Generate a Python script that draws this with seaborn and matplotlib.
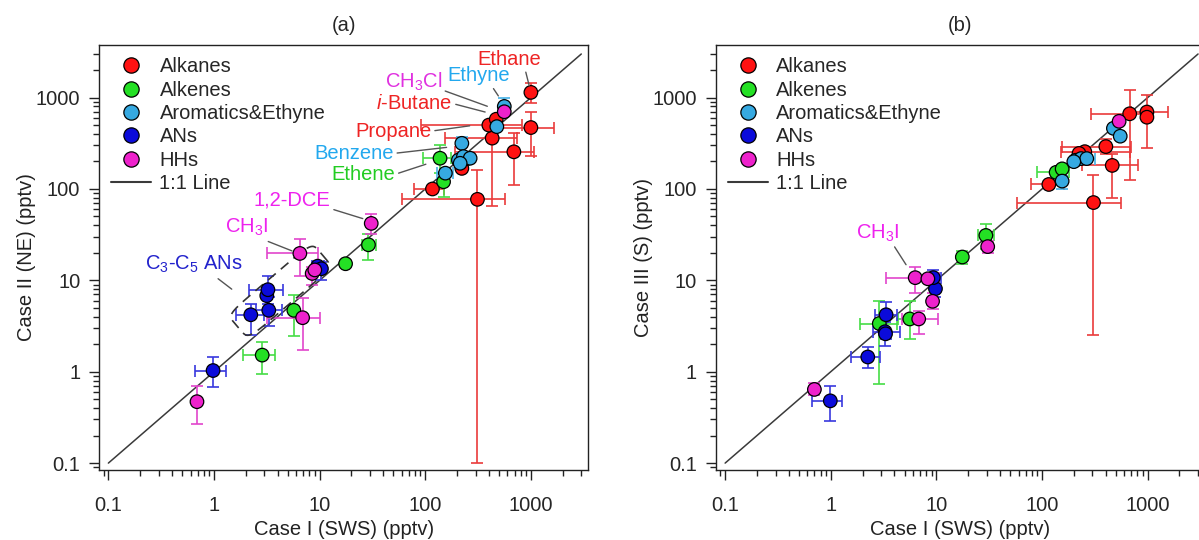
import numpy as np
import pandas as pd
import matplotlib.pyplot as plt
import seaborn as sns
from matplotlib.lines import Line2D
from matplotlib.ticker import LogLocator, FixedLocator, FuncFormatter, NullFormatter

sns.set_style("ticks")
plt.rcParams["font.family"] = ["Liberation Sans", "DejaVu Sans"]
plt.rcParams["mathtext.fontset"] = "custom"
plt.rcParams["mathtext.rm"] = "Liberation Sans"
plt.rcParams["mathtext.it"] = "Liberation Sans:italic"

# ── categories & colours ────────────────────────────────────
groups = ["Alkanes", "Alkenes", "Aromatics&Ethyne", "ANs", "HHs"]
face_cols = ["#FF1212", "#24E024", "#36A9E1", "#0B0BDA", "#EE22CC"]
err_cols = ["#EA3B3B", "#45DD45", "#45B2E6", "#3838DE", "#E245CC"]

# ── panel (a): Case I (SWS) vs Case II (NE), pptv ───────────
a_group = ["Alkanes"] * 10 + ["Alkenes"] * 6 + ["Aromatics&Ethyne"] * 8 + ["ANs"] * 7 + ["HHs"] * 7
a_x = [1000, 1000, 690, 430, 400, 470, 312, 117, 222, 250,
       138, 149, 29, 17.6, 5.7, 2.86,
       560, 476, 222, 206, 230, 266, 214, 155,
       0.98, 2.23, 3.3, 3.16, 3.24, 9.6, 10.4,
       0.69, 6.9, 6.5, 8.5, 9.0, 30.8, 560]
a_y = [1140, 470, 255, 360, 500, 580, 77, 100, 168, 215,
       217, 120, 24.5, 15.2, 4.7, 1.52,
       800, 481, 316, 207, 226, 217, 191, 149,
       1.03, 4.2, 4.7, 6.8, 7.9, 14.3, 13.4,
       0.47, 3.9, 19.7, 11.9, 13.0, 42, 700]
a_xlo = [None, 446, 190, 155, 92, None, 60, 78, None, None,
         96, None, 25, None, None, 1.88,
         None, None, None, None, None, None, None, 130,
         0.66, 1.6, 2.5, None, 2.14, 8.5, None,
         None, 3.2, 3.2, None, None, None, None]
a_xhi = [None, 1660, 1080, 740, 830, None, 570, 150, None, None,
         175, None, 34, None, None, 3.8,
         None, None, None, None, None, 330, None, 185,
         1.29, 3.0, 4.4, None, 4.5, 11, None,
         None, 10, 9.6, None, None, None, None]
a_ylo = [880, 230, 110, 65, None, None, 0.1, None, None, None,
         150, 82, 16.6, None, 2.45, 0.94,
         650, None, 250, None, None, None, None, None,
         0.68, 2.5, 3.2, None, 5.5, None, 10,
         0.27, 1.73, 11.2, 9, None, 32, None]
a_yhi = [1450, 690, 410, 500, None, None, 160, None, None, None,
         300, 150, 32, None, 6.9, 2.1,
         1000, None, 370, None, None, None, None, None,
         1.45, 5.5, 6.5, None, 11.2, None, 16,
         0.69, 6.4, 28, 14, None, 53, None]

# ── panel (b): Case I (SWS) vs Case III (S), pptv ───────────
b_group = ["Alkanes"] * 9 + ["Alkenes"] * 6 + ["Aromatics&Ethyne"] * 7 + ["ANs"] * 7 + ["HHs"] * 7
b_x = [676, 984, 984, 402, 462, 307, 254, 224, 116,
       29.4, 17.6, 136, 155, 2.88, 5.6,
       474, 550, 207, 234, 265, 155, 200,
       0.99, 2.24, 3.27, 3.3, 3.34, 9.8, 9.35,
       0.70, 6.8, 6.3, 8.3, 9.2, 30.6, 537]
b_y = [665, 695, 610, 291, 181, 71, 256, 245, 112,
       31, 18, 152, 166, 3.37, 3.78,
       461, 378, 206, 215, 215, 122, 199,
       0.48, 1.45, 2.74, 2.6, 4.2, 8.1, 10.7,
       0.64, 3.78, 10.7, 10.4, 5.9, 23.4, 550]
b_xlo = [288, 700, None, 155, 239, 58, 150, None, 78,
         25, None, 90, None, 1.9, 4.3,
         None, None, None, None, 230, None, None,
         0.67, 1.55, 2.5, None, 2.6, None, 8,
         None, 4.7, 3.3, None, None, None, None]
b_xhi = [1000, 1571, None, 689, 819, 562, 684, None, 160,
         35, None, 180, None, 4.2, 7,
         None, None, None, None, 320, None, None,
         1.28, 2.9, 4.5, None, 4.2, None, 11,
         None, 10.4, 10.7, None, None, None, None]
b_ylo = [125, 279, None, 240, 79, 2.5, None, None, None,
         22, 15, None, None, 0.73, 2.3,
         None, None, None, None, None, 100, None,
         0.29, 1.09, 1.9, None, 2.3, 6.5, 9,
         0.55, 2.6, 7.2, None, 4.8, 20, None]
b_yhi = [1210, 1067, None, 350, 240, 142, None, None, None,
         41, 21, None, None, 6.0, 5.9,
         None, None, None, None, None, 140, None,
         0.69, 1.88, 3.5, None, 5.8, 10, 13,
         0.75, 4.6, 13.9, None, 7.2, 27, None]

ticks = [0.1, 1, 10, 100, 1000]
line_range = [0.1, 3000]

# labelled species: (text, colour, text x, text y, point x, point y, rel start)
a_labels = [
    ("Ethane", "#EE2424", 621, 2620, 1000, 1140, (0.75, 0.0)),
    (r"$\mathregular{CH_3Cl}$", "#E030E0", 77, 1480, 446, 757, (1.0, 0.15)),
    ("Ethyne", "#22A8EE", 321, 1730, 535, 902, (0.7, 0.0)),
    (r"$\mathit{i}$-Butane", "#EE2424", 79, 862, 427, 665, (1.0, 0.5)),
    ("Propane", "#EE2424", 50, 430, 306, 503, (1.0, 0.5)),
    ("Benzene", "#22A8EE", 21.2, 245, 185, 291, (1.0, 0.5)),
    ("Ethene", "#22CC22", 26, 145, 117, 197, (1.0, 0.5)),
    ("1,2-DCE", "#EE22EE", 5.5, 76, 29.6, 45, (0.95, 0.1)),
    (r"$\mathregular{CH_3I}$", "#EE22EE", 2.05, 37.8, 6.3, 19.7, (0.8, 0.0)),
    (r"$\mathregular{C_3}$-$\mathregular{C_5}$ ANs", "#2222CC", 0.65, 14.8, 1.66, 7.2, (0.7, 0.0)),
]
b_labels = [
    (r"$\mathregular{CH_3I}$", "#EE22EE", 2.76, 33, 5.6, 12.8, (0.85, 0.0)),
]

# dashed box around the C3-C5 ANs in panel (a), log10 units
box_centre = (0.625, 0.885)
box_long = (0.40, 0.395)
box_short = (0.0985, -0.133)


def build(grp, x, y, xlo, xhi, ylo, yhi):
    df = pd.DataFrame({"group": grp, "x": x, "y": y,
                       "xlo": xlo, "xhi": xhi, "ylo": ylo, "yhi": yhi})
    return df.astype({"xlo": float, "xhi": float, "ylo": float, "yhi": float})


def draw_panel(ax, df, title, ylabel, labels):
    ax.set_xscale("log")
    ax.set_yscale("log")
    ax.set_xlim(0.0816, 3490)
    ax.set_ylim(0.084, 3760)

    # error bars first, under the markers
    for grp, ec in zip(groups, err_cols):
        sub = df[df.group == grp]
        sx = sub[sub.xlo.notna()]
        if len(sx):
            ax.errorbar(sx.x, sx.y, xerr=[sx.x - sx.xlo, sx.xhi - sx.x], fmt="none",
                        ecolor=ec, elinewidth=1.2, capsize=4, capthick=1.2, zorder=2)
        sy = sub[sub.ylo.notna()]
        if len(sy):
            ax.errorbar(sy.x, sy.y, yerr=[sy.y - sy.ylo, sy.yhi - sy.y], fmt="none",
                        ecolor=ec, elinewidth=1.2, capsize=4, capthick=1.2, zorder=2)

    ax.plot(line_range, line_range, color="#3a3a3a", lw=1.1, zorder=1)

    sns.scatterplot(data=df, x="x", y="y", hue="group", hue_order=groups,
                    palette=face_cols, s=95, edgecolor="black", linewidth=0.9,
                    legend=False, ax=ax, zorder=3)

    for txt, col, tx, ty, px, py, rel in labels:
        ax.annotate(txt, xy=(px, py), xytext=(tx, ty), color=col, fontsize=14.5,
                    ha="center", va="center", zorder=4,
                    arrowprops=dict(arrowstyle="-", color="#555555", lw=1.0,
                                    relpos=rel, shrinkA=0, shrinkB=5))

    handles = [Line2D([], [], marker="o", ls="", markerfacecolor=c,
                      markeredgecolor="black", markeredgewidth=0.9,
                      markersize=11, label=g) for g, c in zip(groups, face_cols)]
    handles.append(Line2D([], [], color="#3a3a3a", lw=1.5, label="1:1 Line"))
    ax.legend(handles=handles, loc="upper left", frameon=False, fontsize=14.5,
              handlelength=2.0, handletextpad=0.4, labelspacing=0.22,
              borderaxespad=0.3, borderpad=0.3)

    ax.xaxis.set_major_locator(FixedLocator(ticks))
    ax.yaxis.set_major_locator(FixedLocator(ticks))
    fmt = FuncFormatter(lambda v, p: f"{v:g}")
    ax.xaxis.set_major_formatter(fmt)
    ax.yaxis.set_major_formatter(fmt)
    ax.xaxis.set_minor_locator(LogLocator(base=10, subs=np.arange(2, 10), numticks=20))
    ax.yaxis.set_minor_locator(LogLocator(base=10, subs=np.arange(2, 10), numticks=20))
    ax.xaxis.set_minor_formatter(NullFormatter())
    ax.yaxis.set_minor_formatter(NullFormatter())
    ax.tick_params(which="both", direction="out", top=False, right=False,
                   labelsize=14.5, width=1, color="#222222")
    ax.tick_params(which="major", length=7.5)
    ax.tick_params(which="minor", length=4.3)
    ax.tick_params(axis="x", which="major", pad=11)
    ax.tick_params(axis="y", which="major", pad=6)
    for sp in ax.spines.values():
        sp.set_visible(True)
        sp.set_color("#222222")
        sp.set_linewidth(1.0)

    ax.set_title(title, fontsize=14.5, pad=10)
    ax.set_xlabel("Case I (SWS) (pptv)", fontsize=14.5, labelpad=4, color="#222222")
    ax.set_ylabel(ylabel, fontsize=14.5, labelpad=0, color="#222222")


df_a = build(a_group, a_x, a_y, a_xlo, a_xhi, a_ylo, a_yhi)
df_b = build(b_group, b_x, b_y, b_xlo, b_xhi, b_ylo, b_yhi)

fig = plt.figure(figsize=(11.99, 5.4), dpi=100)
ax_a = fig.add_axes([0.0826, 0.1296, 0.408, 0.787])
ax_b = fig.add_axes([0.597, 0.1296, 0.408, 0.787])

draw_panel(ax_a, df_a, "(a)", "Case II (NE) (pptv)", a_labels)
draw_panel(ax_b, df_b, "(b)", "Case III (S) (pptv)", b_labels)

# rounded dashed box around C3-C5 ANs
t = np.linspace(0, 2 * np.pi, 400)
fc = np.sign(np.cos(t)) * np.abs(np.cos(t)) ** 0.3
fs = np.sign(np.sin(t)) * np.abs(np.sin(t)) ** 0.3
bx = box_centre[0] + box_long[0] * fc + box_short[0] * fs
by = box_centre[1] + box_long[1] * fc + box_short[1] * fs
ax_a.plot(10 ** bx, 10 ** by, color="#333333", lw=1.2, ls=(0, (6, 4)), zorder=2.5)

fig.savefig("out.png", dpi=100)
print("Saved: out.png")
